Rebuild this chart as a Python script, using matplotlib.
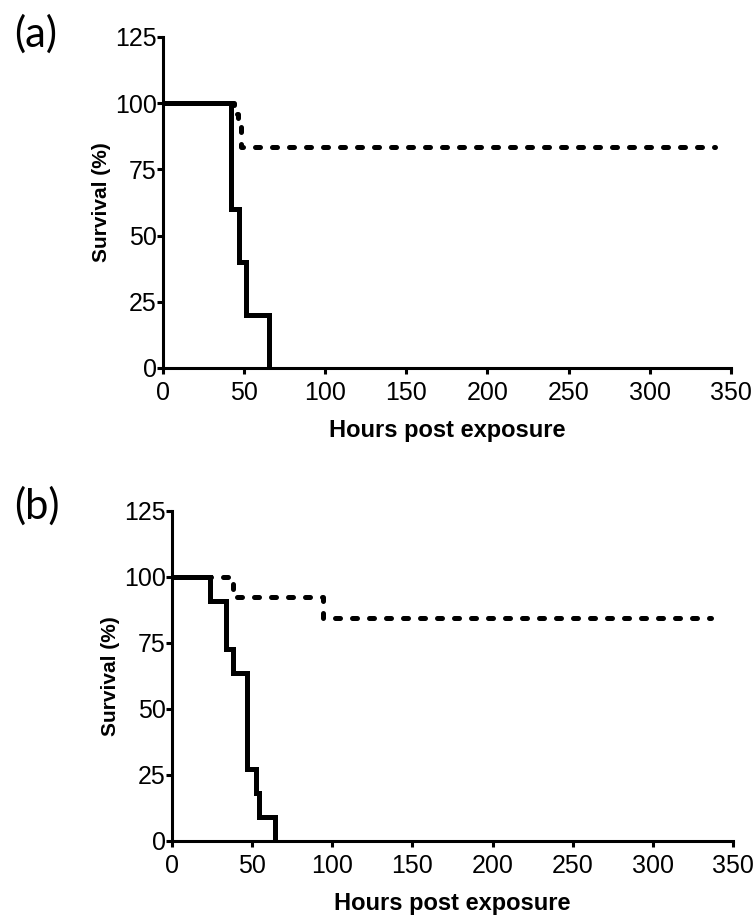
import numpy as np
import matplotlib.pyplot as plt

plt.rcParams['font.family'] = ['Liberation Sans', 'DejaVu Sans']

# Panel (a): Kaplan-Meier survival curves
t_a_solid = [0, 41.7, 46.9, 51, 65.4]
s_a_solid = [100, 60, 40, 20, 0]
t_a_dash = [0, 44, 46, 48, 340]
s_a_dash = [100, 95.8, 91.7, 83.3, 83.3]

# Panel (b)
t_b_solid = [0, 23.5, 33.8, 38.3, 46.7, 52.6, 54, 64.5]
s_b_solid = [100, 90.9, 72.7, 63.6, 27.3, 18.2, 9.1, 0]
t_b_dash = [0, 38, 94, 336]
s_b_dash = [100, 92.3, 84.6, 84.6]

xticks = [0, 50, 100, 150, 200, 250, 300, 350]
yticks = [0, 25, 50, 75, 100, 125]

fig = plt.figure(figsize=(7.54, 9.22), dpi=100)
ax_a = fig.add_axes([0.2160, 0.6009, 0.7533, 0.359])
ax_b = fig.add_axes([0.2281, 0.0879, 0.744, 0.358])

panels = [(ax_a, t_a_solid, s_a_solid, t_a_dash, s_a_dash),
          (ax_b, t_b_solid, s_b_solid, t_b_dash, s_b_dash)]

for ax, ts, ss, td, sd in panels:
    ax.step(td, sd, where='post', color='black', lw=3.6,
            linestyle=(0, (1.0, 2.4)), dash_capstyle='round', solid_joinstyle='miter')
    ax.step(ts, ss, where='post', color='black', lw=3.6, solid_joinstyle='miter',
            solid_capstyle='butt')
    ax.set_xlim(0, 350)
    ax.set_ylim(0, 125)
    ax.set_xticks(xticks)
    ax.set_yticks(yticks)
    for s in ['top', 'right']:
        ax.spines[s].set_visible(False)
    for s in ['left', 'bottom']:
        ax.spines[s].set_linewidth(2.2)
    ax.tick_params(direction='out', length=4, width=2.2, labelsize=18)
    ax.tick_params(axis='x', pad=5.5)
    ax.tick_params(axis='y', pad=0.5)
    ax.set_xlabel('Hours post exposure', fontsize=17, fontweight='bold', labelpad=10)
    ax.set_ylabel('Survival (%)', fontsize=15, fontweight='bold', labelpad=3)
    ax.patch.set_visible(False)

fig.text(0.019, 0.963, '(a)', fontsize=30, family=['Lato', 'DejaVu Sans'], va='center')
fig.text(0.019, 0.451, '(b)', fontsize=30, family=['Lato', 'DejaVu Sans'], va='center')

fig.savefig('out.png', dpi=100)
